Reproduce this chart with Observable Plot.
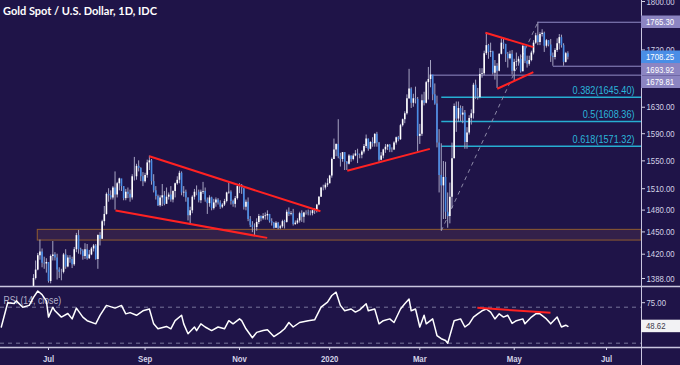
<!DOCTYPE html>
<html><head><meta charset="utf-8">
<script src="https://cdn.jsdelivr.net/npm/d3@7"></script>
<script src="https://cdn.jsdelivr.net/npm/@observablehq/plot@0.6"></script>
<style>
body{margin:0;background:#1f1448;}
#chart{position:relative;width:680px;height:365px;background:#1f1448;overflow:hidden;}
#chart svg{display:block;background:transparent;}
#title{position:absolute;left:3px;top:4px;z-index:2;color:#ffffff;font:bold 11px Lato,"Open Sans",sans-serif;white-space:nowrap;}
</style></head><body>
<div id="chart"><div id="title">Gold Spot / U.S. Dollar, 1D, IDC</div></div>
<script>
// ---------- data ----------
const firstBarDate = "2019-06-17";
const firstOpen = 1341;
const close = [
1340,1346,1360,1388,1399,1418,1423,1408,1407,1409,
1384,1417,1419,1415,1399,1396,1396,1419,1403,1415,1413,1406,1426,1445,1426,1424,1417,1426,1414,1419,1427,1431,1413,
1445,1440,1464,1474,1502,1500,1497,1511,1501,1517,1524,1513,1496,1505,1502,1497,1527,1527,1542,1539,1527,1520,
1529,1547,1550,1520,1507,1499,1486,1497,1500,1488,1498,1501,1494,1506,1517,1522,1532,1504,1505,1497,1472,
1479,1498,1505,1505,1493,1505,1506,1494,1489,1497,1482,1490,1494,1490,1484,1487,1492,1504,1505,1492,1488,1496,1513,
1514,1510,1484,1491,1467,1459,1456,1456,1463,1471,1468,1471,1472,1474,1464,1462,1455,1462,1455,1457,1464,
1463,1477,1474,1475,1460,1462,1465,1475,1470,1476,1476,1475,1475,1479,1478,1487,1498,1511,1511,1515,1517,
1528,1552,1566,1574,1556,1552,1562,1548,1545,1557,1552,1557,1560,1558,1558,1563,1571,1582,1567,1577,1575,1589,
1576,1551,1557,1566,1570,1573,1566,1566,1576,1584,1581,1602,1611,1620,1643,1658,1636,1643,1642,1586,
1589,1640,1636,1668,1673,1680,1649,1635,1576,1529,1514,1526,1477,1471,1498,1553,1631,1612,1628,1618,1621,1577,
1591,1613,1620,1664,1646,1645,1681,1682,1714,1727,1716,1717,1683,1694,1686,1713,1731,1729,1713,1706,1713,1686,
1700,1701,1705,1685,1726,1702,1697,1703,1715,1731,1743,1732,1745,1747,1726,1735,1728,1710,1708,1719,1730,
1740,1727,1700,1714,1708.25];
const high = [
1345,1353,1362,1393,1411,1421,1439,1427,1416,1414,
1408,1419,1437,1422,1420,1402,1400,1421,1426,1418,1418,1416,1429,1448,1452,1428,1426,1434,1433,1425,1429,1433,1433,
1446,1449,1466,1485,1504,1510,1507,1513,1534,1519,1525,1523,1513,1509,1511,1508,1530,1555,1545,1550,1540,1533,
1532,1551,1557,1552,1530,1513,1501,1500,1516,1506,1511,1504,1513,1507,1518,1527,1535,1534,1513,1508,1497,
1484,1500,1509,1514,1508,1508,1519,1511,1497,1500,1498,1495,1497,1496,1493,1489,1495,1505,1518,1507,1494,1499,1514,
1517,1516,1510,1494,1497,1471,1464,1461,1468,1474,1472,1475,1476,1479,1474,1468,1463,1464,1463,1459,1466,
1466,1480,1483,1478,1481,1465,1468,1477,1479,1477,1479,1480,1479,1480,1482,1488,1499,1512,1515,1518,1524,
1529,1554,1582,1575,1611,1561,1562,1562,1549,1559,1557,1560,1565,1567,1560,1565,1574,1588,1582,1578,1584,1590,
1592,1577,1562,1567,1574,1574,1574,1569,1578,1585,1586,1604,1612,1623,1649,1689,1660,1650,1661,1645,
1604,1649,1653,1670,1692,1703,1677,1666,1647,1596,1575,1549,1548,1504,1518,1576,1635,1638,1638,1632,1631,1625,
1599,1617,1626,1667,1672,1659,1690,1690,1718,1747.9,1729,1731,1718,1703,1698,1714,1738,1738,1729,1716,1718,1719,
1705,1715,1709,1712,1727,1722,1710,1710,1718,1735,1747,1765.3,1748,1753,1749,1737,1735,1737,1715,1722,1738,
1745,1744,1730,1716,1717];
const low = [
1336,1335,1342,1357,1386,1398,1412,1402,1400,1395,
1382,1381,1411,1411,1386,1388,1385,1394,1400,1402,1408,1401,1404,1422,1420,1419,1412,1413,1412,1413,1418,1423,1412,
1400,1431,1440,1458,1473,1491,1494,1494,1480,1497,1507,1506,1493,1493,1496,1491,1494,1521,1522,1534,1520,1513,
1518,1525,1536,1515,1504,1494,1485,1484,1485,1486,1489,1494,1491,1490,1497,1515,1517,1500,1498,1491,1465,
1459,1475,1494,1500,1490,1489,1502,1491,1474,1484,1479,1480,1484,1487,1481,1482,1485,1490,1502,1487,1484,1483,1494,
1503,1502,1480,1479,1464,1456,1449,1445,1451,1460,1464,1466,1466,1466,1462,1458,1454,1455,1453,1453,1455,
1454,1462,1471,1472,1458,1459,1460,1462,1463,1462,1473,1472,1472,1472,1474,1476,1486,1498,1507,1508,1512,
1517,1525,1552,1556,1553,1541,1548,1536,1536,1544,1548,1550,1556,1546,1553,1553,1560,1568,1564,1566,1570,1570,
1570,1548,1550,1553,1561,1565,1562,1562,1565,1573,1578,1580,1600,1605,1618,1642,1628,1630,1635,1563,
1574,1586,1632,1635,1641,1660,1640,1633,1569,1504,1451.43,1467,1467,1455,1461,1482,1553,1592,1607,1608,1605,1567,
1567,1588,1603,1612,1642,1641,1643,1675,1679,1711,1705,1708,1680,1672,1659,1685,1712,1721,1700,1691,1704,1680,
1670,1693,1694,1683,1685,1698,1691,1694,1701,1712,1729,1727,1727,1741,1716,1723,1725,1700,1693.92,1704,1716,
1720,1723,1694,1699,1704];

// RSI (14, close): bar number (0 = 2019-06-03) and value
const rsiBar = [-2,0,1,4,5,8,11,13,15,17,19,20,22,23,26,29,31,33,36,38,42,44,47,51,54,56,58,61,64,67,69,71,75,77,79,82,83,85,88,89,91,93,96,99,102,104,106,109,110,112,115,117,120,122,125,128,130,132,134,137,141,144,147,150,152,154,156,158,161,163,165,168,169,172,174,176,179,181,184,186,188,189,191,193,195,196,199,201,203,205,206,209,212,214,216,218,220,222,224,226,228,230,232,234,236,238,241,242,245,247,249,252,254,257,259,261,262];
const rsiValue = [48,66,75,74,77,70,72,81,88,84,77,59,70,66,59,63,57,69,59,55,51.5,61,72,69,72,62.6,64,61,66,68,51.5,46,48.6,46,55,61,51.5,40.4,48,44,51.5,48,44,48,46,55,51.5,57,55,46,36,42,44,45,37.4,42,46,53,48,53,55,56,70,75.6,83,86.7,72,66,68,64.6,67,73.8,66,68,51.5,55,57,53,68,73.8,79,66,68,48,61,51.5,57,38.5,35,33,30,55,57,48,51.5,59,62.6,66,68,64.6,57,62.6,59,61,52,55,57,51.5,59,62.6,62.6,57,51.5,59,48,50,48.62];

// annotations (bar number, price)
const trendFrom = [[67,1556.6],[51.2,1479.3],[159.2,1535.8],[223.6,1747.9],[229.1,1658.5]];
const trendTo   = [[146.7,1478.3],[121.9,1441.9],[197.7,1567.5],[245.9,1724.5],[245.9,1684.5]];
const rsiTrendFrom = [219.8,69.3], rsiTrendTo = [253.9,63.8];
const levelPrice = [1765.30,1693.92,1679.81];
const levelFromBar = [248,255,198];
const fibRatio = ["0.382","0.5","0.618"];
const fibPrice = [1645.40,1608.36,1571.32];
const fibFromBar = 203;
const swingLow = [203,1451.43], swingHigh = [248,1765.30];
const zoneFromBar = 15, zoneLow = 1438.3, zoneHigh = 1452.8;
const priceTicks = [1388,1420,1450,1480,1510,1550,1590,1630,1720,1800];
const rsiTicks = [75];
const rsiLevels = [70,30];
const tickMonths = ["2019-07","2019-09","2019-11","2020-01","2020-03","2020-05","2020-07"];
const tickLabels = ["Jul","Sep","Nov","2020","Mar","May","Jul"];
const lastPrice = 1708.25, lastRsi = 48.62;

// ---------- calendar (weekdays, market closed on the two holidays) ----------
const holidays = ["2019-12-25","2020-01-01"];
const days = [];
for (let d = new Date(Date.UTC(2019,4,27)); d <= new Date(Date.UTC(2020,6,31)); d.setUTCDate(d.getUTCDate()+1)) {
  const wd = d.getUTCDay(), s = d.toISOString().slice(0,10);
  if (wd > 0 && wd < 6 && !holidays.includes(s)) days.push(s);
}
const origin = days.indexOf("2019-06-03");
const barOf = s => days.indexOf(s) - origin;
const tickBars = tickMonths.map(m => days.findIndex(s => s.startsWith(m)) - origin);

const start = barOf(firstBarDate);
const candles = close.map((c, k) => ({i: start + k, o: k ? close[k-1] : firstOpen, h: high[k], l: low[k], c}));
const up = candles.filter(d => d.c >= d.o), down = candles.filter(d => d.c < d.o);
const rsi = rsiBar.map((b, k) => ({b, v: rsiValue[k]}));
const trends = trendFrom.map((a, k) => ({x1: a[0], y1: a[1], x2: trendTo[k][0], y2: trendTo[k][1]}));
const xMin = -2.37, xMax = 296.3;
const levels = levelPrice.map((p, k) => ({p, x1: levelFromBar[k], x2: xMax}));
const fibs = fibPrice.map((p, k) => ({p, x1: fibFromBar, x2: xMax, label: `${fibRatio[k]}(${p.toFixed(2)})`}));

const FONT = "'Liberation Sans',Arial,sans-serif";
const AX = "#d4d2e6", SEP = "#c9c6df";
const yLo = 1377.6, yHi = 1801.7, rLo = 25.2, rHi = 91.9;

// ---------- price panel ----------
const price = Plot.plot({
  width: 680, height: 287, marginTop: 0, marginBottom: 1, marginLeft: 0, marginRight: 39,
  style: {background: "transparent", fontFamily: FONT, fontSize: "9.4px", color: AX, overflow: "visible"},
  x: {domain: [xMin, xMax], axis: null},
  y: {type: "log", domain: [yLo, yHi], axis: null},
  marks: [
    Plot.rect([{x1: zoneFromBar, x2: xMax, y1: zoneLow, y2: zoneHigh}], {x1: "x1", x2: "x2", y1: "y1", y2: "y2", fill: "#33204a", stroke: "#8f5c30", strokeWidth: 1}),
    Plot.link(levels, {x1: "x1", x2: "x2", y1: "p", y2: "p", stroke: "#928cc6", strokeWidth: 1}),
    Plot.link(fibs, {x1: "x1", x2: "x2", y1: "p", y2: "p", stroke: "#27aed2", strokeWidth: 1.5}),
    Plot.text(fibs, {x: "x2", y: "p", text: "label", textAnchor: "end", dx: -7, dy: -7, fill: "#2bb6da", fontSize: 11}),
    Plot.link([{x1: swingLow[0], y1: swingLow[1], x2: swingHigh[0], y2: swingHigh[1]}], {x1: "x1", y1: "y1", x2: "x2", y2: "y2", stroke: "#8d8aa8", strokeWidth: 1, strokeDasharray: "4,4"}),
    Plot.ruleX(candles, {x: "i", y1: "l", y2: "h", stroke: "#a7a5c3", strokeWidth: 1, clip: true}),
    Plot.ruleX(up, {x: "i", y1: "o", y2: "c", stroke: "#ffffff", strokeWidth: 1.6, clip: true}),
    Plot.ruleX(down, {x: "i", y1: "o", y2: "c", stroke: "#4a8de6", strokeWidth: 1.6, clip: true}),
    Plot.link(trends, {x1: "x1", y1: "y1", x2: "x2", y2: "y2", stroke: "#ff2222", strokeWidth: 2}),
    Plot.axisY(priceTicks, {anchor: "right", tickSize: 3, tickPadding: 2, tickFormat: d => d.toFixed(2), color: AX}),
    Plot.ruleX([xMax], {stroke: SEP, strokeWidth: 1}),
    Plot.ruleY([yLo], {stroke: SEP, strokeWidth: 1.5, insetRight: -39})
  ]
});

// ---------- RSI panel ----------
const rsiPlot = Plot.plot({
  width: 680, height: 78, marginTop: 0, marginBottom: 18, marginLeft: 0, marginRight: 39,
  style: {background: "transparent", fontFamily: FONT, fontSize: "9.4px", color: AX, overflow: "visible"},
  x: {domain: [xMin, xMax], axis: null},
  y: {domain: [rLo, rHi], axis: null},
  marks: [
    Plot.ruleY(rsiLevels, {stroke: "#77759a", strokeDasharray: "4,4", strokeWidth: 1}),
    Plot.text(["RSI (14, close)"], {frameAnchor: "top-left", dx: 3, dy: 13, fill: "#b2b0ca", fontSize: 10.5, lineAnchor: "middle"}),
    Plot.line(rsi, {x: "b", y: "v", stroke: "#ffffff", strokeWidth: 1.5}),
    Plot.link([{x1: rsiTrendFrom[0], y1: rsiTrendFrom[1], x2: rsiTrendTo[0], y2: rsiTrendTo[1]}], {x1: "x1", y1: "y1", x2: "x2", y2: "y2", stroke: "#ff2222", strokeWidth: 2}),
    Plot.axisY(rsiTicks, {anchor: "right", tickSize: 3, tickPadding: 2, tickFormat: d => d.toFixed(2), color: AX}),
    Plot.axisX(tickBars, {anchor: "bottom", tickSize: 3, tickPadding: 5, tickFormat: d => tickLabels[tickBars.indexOf(d)], color: AX, fontWeight: "bold"}),
    Plot.ruleX([xMax], {stroke: SEP, strokeWidth: 1, insetBottom: -18}),
    Plot.ruleY([rLo], {stroke: SEP, strokeWidth: 1.5, insetRight: -39})
  ]
});

// ---------- price tags on the right axis (positions from the plot's own scales) ----------
function drawTags(svg, tags) {
  const ys = svg.scale("y"), x0 = svg.scale("x").apply(xMax), h = 12.5;
  const g = d3.select(svg).append("g").attr("font-family", FONT).attr("font-size", "9.4px").attr("text-anchor", "start");
  let prev = -Infinity;
  tags.map(t => ({...t, py: ys.apply(t.value)})).sort((a, b) => a.py - b.py).forEach(t => {
    const cy = Math.max(t.py, prev + h); prev = cy;
    g.append("rect").attr("x", x0).attr("y", cy - h / 2).attr("width", 39).attr("height", h).attr("fill", t.bg);
    g.append("text").attr("x", x0 + 5).attr("y", cy).attr("dy", "0.35em").attr("fill", t.fg).text(t.value.toFixed(2));
  });
}
drawTags(price, [
  {value: levelPrice[0], bg: "#8c85c2", fg: "#ffffff"},
  {value: lastPrice, bg: "#4a8ee6", fg: "#ffffff"},
  {value: levelPrice[1], bg: "#8c85c2", fg: "#ffffff"},
  {value: levelPrice[2], bg: "#8c85c2", fg: "#ffffff"}
]);
drawTags(rsiPlot, [{value: lastRsi, bg: "#f2f2f4", fg: "#3a3a4a"}]);

const chart = document.getElementById("chart");
chart.appendChild(price);
chart.appendChild(rsiPlot);

// the reference uses a narrow face: compress the glyphs horizontally
for (const svg of [price, rsiPlot]) {
  d3.select(svg).selectAll("text").each(function () {
    if (!this.textContent) return;
    const L = this.getComputedTextLength();
    if (L > 0) { this.setAttribute("textLength", (L * 0.83).toFixed(2)); this.setAttribute("lengthAdjust", "spacingAndGlyphs"); }
  });
}
</script>
</body></html>
